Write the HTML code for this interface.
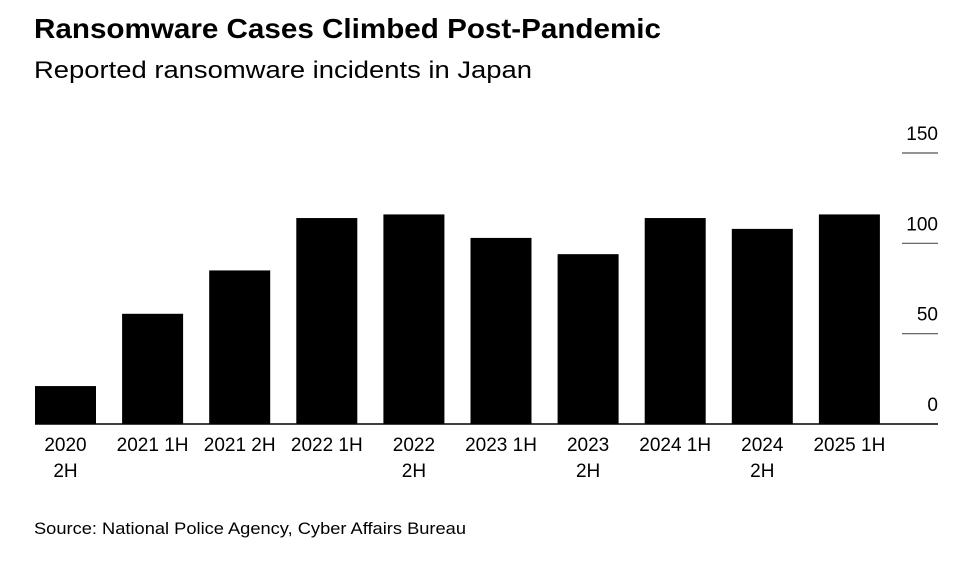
<!DOCTYPE html>
<html><head><meta charset="utf-8"><style>
body{margin:0;background:#fff;font-family:"Liberation Sans",Arial,sans-serif;}
svg text{font-family:"Liberation Sans",Arial,sans-serif;}
</style></head><body>
<svg width="978" height="562">
<text x="34" y="38" font-size="28" font-weight="bold" fill="#000" textLength="627" lengthAdjust="spacingAndGlyphs">Ransomware Cases Climbed Post-Pandemic</text>
<text x="34" y="78" font-size="24" fill="#000" textLength="498" lengthAdjust="spacingAndGlyphs">Reported ransomware incidents in Japan</text>
<text x="34" y="534" font-size="17" fill="#000" textLength="432" lengthAdjust="spacingAndGlyphs">Source: National Police Agency, Cyber Affairs Bureau</text>
<g id="ticks"></g><g id="bars"></g><g id="xlabels"></g>
<line x1="35" x2="938" y1="424" y2="424" stroke="#000" stroke-width="1.5"/>
</svg>
<script>
const categories=[["2020","2H"],["2021 1H"],["2021 2H"],["2022 1H"],["2022","2H"],["2023 1H"],["2023","2H"],["2024 1H"],["2024","2H"],["2025 1H"]];
const values=[21,61,85,114,116,103,94,114,108,116];
const tickValues=[0,50,100,150];
const tickLabels=["0","50","100","150"];
const NS="http://www.w3.org/2000/svg";
const y0=424,yTop=153,vMax=150;
const y=v=>y0-(y0-yTop)*v/vMax;
const x0=35,step=87.1,bw=61;
const x=i=>x0+i*step;
function mk(t,a){const e=document.createElementNS(NS,t);for(const k in a)e.setAttribute(k,a[k]);return e;}
const tg=document.getElementById('ticks');
tickValues.forEach((v,i)=>{
 if(v>0){const l=mk('line',{x1:902,x2:938,y1:y(v),y2:y(v),stroke:'#555','stroke-width':1.2});
 
 tg.appendChild(l);}
 const t=mk('text',{x:938,y:y(v)-13,'text-anchor':'end','font-size':19,fill:'#000'});t.textContent=tickLabels[i];
 
 tg.appendChild(t);
});
const bg=document.getElementById('bars'),lg=document.getElementById('xlabels');
values.forEach((v,i)=>{
 const r=mk('rect',{x:x(i),y:y(v),width:bw,height:y0-y(v),fill:'#000'});
 
 bg.appendChild(r);
 categories[i].forEach((s,j)=>{
  const t=mk('text',{x:x(i)+bw/2,y:451+j*26,'text-anchor':'middle','font-size':19,fill:'#000'});t.textContent=s;
  
  lg.appendChild(t);
 });
});
</script>
</body></html>
